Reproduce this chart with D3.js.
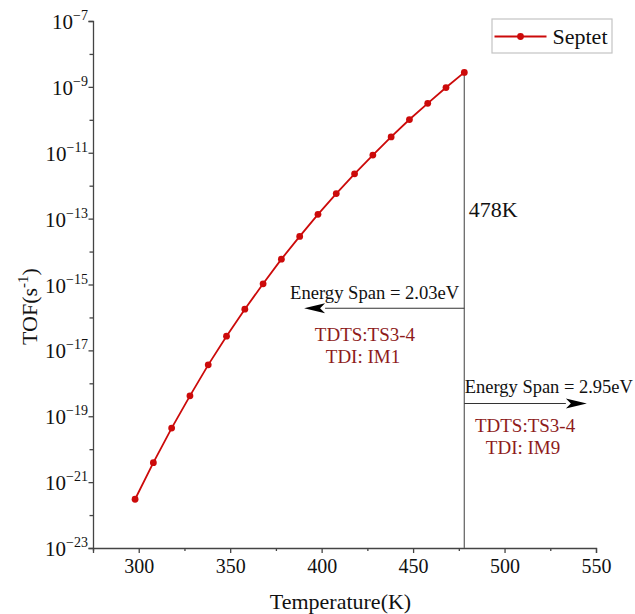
<!DOCTYPE html>
<html><head><meta charset="utf-8">
<script src="https://cdn.jsdelivr.net/npm/d3@7"></script>
<style>
html,body{margin:0;padding:0;background:#fff;}
svg{display:block;font-family:"Liberation Serif","Times New Roman",serif;}
</style></head>
<body><svg id="chart" width="635" height="614"></svg>
<script>
// ---- data ----
const temperatures = [298,308,318,328,338,348,358,368,378,388,398,408,418,428,438,448,458,468,478];
const tofSeptet = [3.02e-22,3.89e-21,4.37e-20,4.17e-19,3.63e-18,2.69e-17,1.78e-16,1.05e-15,5.89e-15,2.88e-14,1.35e-13,5.75e-13,2.29e-12,8.51e-12,3.02e-11,1.02e-10,3.16e-10,9.55e-10,2.75e-9];
const seriesName = "Septet";
const xTicks = [300,350,400,450,500,550];
const xMinorTicks = [275,325,375,425,475,525];
const yExponents = [-23,-21,-19,-17,-15,-13,-11,-9,-7];
const yMinorExponents = [-22,-20,-18,-16,-14,-12,-10,-8];
const markerT = 478;
const spans = [
  {label:"Energy Span = 2.03eV", tdts:"TDTS:TS3-4", tdi:"TDI: IM1", y:1.9e-16, tipT:390.4, textT:423.7, dir:-1},
  {label:"Energy Span = 2.95eV", tdts:"TDTS:TS3-4", tdi:"TDI: IM9", y:2.45e-19, tipT:545, textT:511.2, dir:1}
];
const markerLabel = "478K";
const markerLabelY = 1.15e-13;

// ---- chart ----
const svg = d3.select("#chart");
const x = d3.scaleLinear().domain([275,550]).range([93,596]);
const y = d3.scaleLog().domain([1e-23,1e-7]).range([548,21]);
const axisColor = "#444";
const red = "#cc0a0a";
const darkRed = "#8e1b1b";

// x axis
const gx = svg.append("g").attr("transform",`translate(0,${y(1e-23)})`)
  .call(d3.axisBottom(x).tickValues(xTicks).tickSize(5).tickPadding(6).tickFormat(d3.format("d")));
svg.append("g").attr("transform",`translate(0,${y(1e-23)})`)
  .call(d3.axisBottom(x).tickValues(xMinorTicks).tickSize(3).tickFormat(""))
  .select(".domain").remove();
gx.selectAll("text").attr("font-size",20).attr("fill","#111").attr("font-family","Liberation Serif, Times New Roman, serif");

// y axis
const yTickVals = yExponents.map(e=>Math.pow(10,e));
const yMinorVals = yMinorExponents.map(e=>Math.pow(10,e));
svg.append("g").attr("transform",`translate(${x(275)},0)`)
  .call(d3.axisLeft(y).tickValues(yTickVals).tickSize(4.5).tickFormat(""));
svg.append("g").attr("transform",`translate(${x(275)},0)`)
  .call(d3.axisLeft(y).tickValues(yMinorVals).tickSize(3.5).tickFormat(""))
  .select(".domain").remove();
svg.selectAll(".domain, .tick line").attr("stroke",axisColor).attr("stroke-width",1.3);

// y tick labels with superscripts
const ylab = svg.append("g");
yExponents.forEach(e=>{
  const yy = y(Math.pow(10,e));
  const t = ylab.append("text").attr("x",x(275)-5).attr("y",yy+8)
    .attr("text-anchor","end").attr("font-size",21).attr("fill","#111");
  t.append("tspan").text("10");
  t.append("tspan").attr("font-size",14).attr("dy",-9).text("\u2212"+Math.abs(e));
});

// axis titles
svg.append("text").attr("x",(x(275)+x(550))/2-4).attr("y",609)
  .attr("text-anchor","middle").attr("font-size",22).attr("fill","#111").text("Temperature(K)");
const yt = svg.append("text").attr("transform",`translate(36.5,${(y(1e-7)+y(1e-23))/2+22}) rotate(-90)`)
  .attr("text-anchor","middle").attr("font-size",22).attr("fill","#111");
yt.append("tspan").text("TOF(s");
yt.append("tspan").attr("font-size",15).attr("dy",-9).text("-1");
yt.append("tspan").attr("dy",9).text(")");

// vertical marker line
const lastVal = tofSeptet[temperatures.indexOf(markerT)];
svg.append("line").attr("x1",x(markerT)).attr("x2",x(markerT))
  .attr("y1",y(lastVal)).attr("y2",y(1e-23)).attr("stroke","#6a6a6a").attr("stroke-width",1.3);
svg.append("text").attr("x",x(markerT)+4.5).attr("y",y(markerLabelY))
  .attr("font-size",22).attr("fill","#111").text(markerLabel);

// energy span arrows
spans.forEach(s=>{
  const ay = y(s.y), x0 = x(markerT), xt = x(s.tipT);
  const headLen = 21, hw = 5;
  const xb = xt - s.dir*headLen;
  svg.append("line").attr("x1",x0).attr("x2",xb).attr("y1",ay).attr("y2",ay)
    .attr("stroke","#333").attr("stroke-width",1.1);
  svg.append("path")
    .attr("d",`M${xt},${ay} L${xb},${ay-hw} L${xb+s.dir*5},${ay} L${xb},${ay+hw} Z`)
    .attr("fill","#000");
  if (s.dir<0) {
    svg.append("text").attr("x",x0-5).attr("y",ay-9).attr("text-anchor","end")
      .attr("font-size",18.6).attr("fill","#111").text(s.label);
  } else {
    svg.append("text").attr("x",x0+0.5).attr("y",ay-10.5).attr("text-anchor","start")
      .attr("font-size",18.6).attr("fill","#111").attr("textLength",168).attr("lengthAdjust","spacingAndGlyphs").text(s.label);
  }
  const off = s.dir<0 ? 32.5 : 28.5;
  svg.append("text").attr("x",x(s.textT)).attr("y",ay+off).attr("text-anchor","middle")
    .attr("font-size",19).attr("fill",darkRed).text(s.tdts);
  svg.append("text").attr("x",x(s.textT)-2).attr("y",ay+off+22.5).attr("text-anchor","middle")
    .attr("font-size",19).attr("fill",darkRed).text(s.tdi);
});

// series
const pts = temperatures.map((t,i)=>[t,tofSeptet[i]]);
svg.append("path").datum(pts)
  .attr("d",d3.line().x(d=>x(d[0])).y(d=>y(d[1])))
  .attr("fill","none").attr("stroke",red).attr("stroke-width",1.8);
svg.append("g").selectAll("circle").data(pts).join("circle")
  .attr("cx",d=>x(d[0])).attr("cy",d=>y(d[1])).attr("r",3.4).attr("fill",red);

// legend
const lg = svg.append("g");
lg.append("rect").attr("x",492).attr("y",19).attr("width",120).attr("height",34)
  .attr("fill","#fff").attr("stroke","#c4c4c4").attr("stroke-width",1.2);
lg.append("line").attr("x1",494.5).attr("x2",546.5).attr("y1",36.5).attr("y2",36.5)
  .attr("stroke",red).attr("stroke-width",1.8);
lg.append("circle").attr("cx",520.5).attr("cy",36.5).attr("r",3.4).attr("fill",red);
lg.append("text").attr("x",552.5).attr("y",44).attr("font-size",22).attr("fill","#111").text(seriesName);
</script></body></html>
